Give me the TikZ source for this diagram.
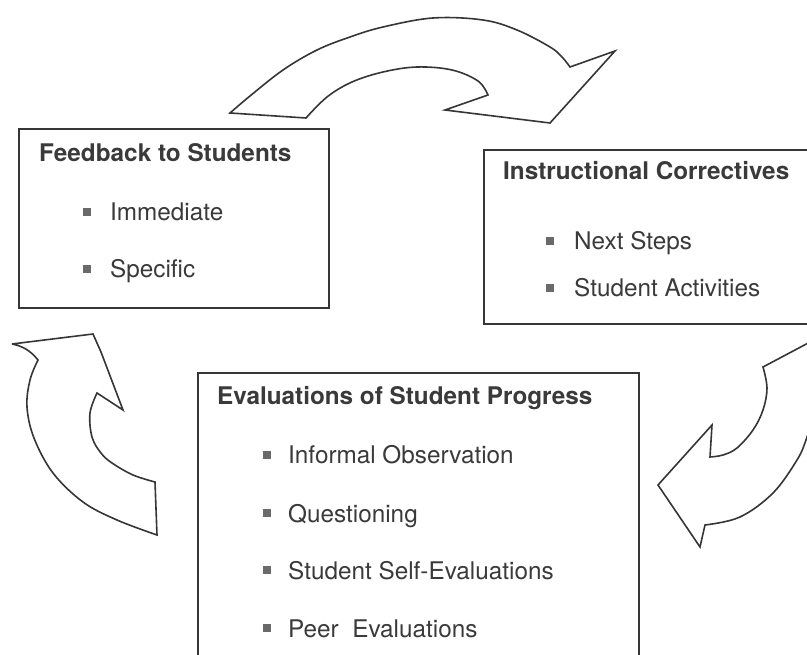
\documentclass[tikz,border=0pt]{standalone}
\usepackage{fontspec}
\setmainfont{TeX Gyre Heros}
\definecolor{ink}{HTML}{363636}
\definecolor{txt}{HTML}{3A3A3A}
\definecolor{dot}{HTML}{6A6A6A}
\begin{document}
\begin{tikzpicture}[x=1pt,y=-1pt,
  panel/.style={draw=ink, line width=1.8pt, anchor=north west, inner sep=0pt},
  heading/.style={anchor=base west, inner sep=0pt, text=txt, font=\fontsize{24.3}{29}\selectfont\bfseries},
  item/.style={anchor=base west, inner sep=0pt, text=txt, font=\fontsize{24.3}{29}\selectfont},
  bullet/.style={fill=dot, minimum size=7.5pt, inner sep=0pt, outer sep=0pt},
  bigarrow/.style={draw=ink, line width=1.6pt, line join=miter, fill=white}]
\useasboundingbox (0,0) rectangle (807,655);
\clip (0,0) rectangle (807,655);
\fill[white] (0,0) rectangle (807,655);

% top curved arrow: from Feedback over to Instructional Correctives
\draw[bigarrow] (230,113)
  -- plot[smooth, tension=0.6] coordinates {(230,113) (250,96) (283,70) (317,50) (350,37) (383,27) (433,18) (483,20) (517,30) (550,47) (562,57) (570,67)}
  -- (615,51) -- (550,123) -- (445,110) -- (488,95)
  -- plot[smooth, tension=0.6] coordinates {(488,95) (478,81) (452,70) (417,67) (383,72) (352,82) (327,97) (306,118)}
  -- cycle;

% left curved arrow: from Evaluations up to Feedback
\draw[bigarrow] (12,344) -- (93,334) -- (101,352) -- (123,410) -- (97,393)
  -- plot[smooth, tension=0.6] coordinates {(97,393) (90,413) (92,437) (101,453) (112,463) (133,475) (155,482)}
  -- (157,535)
  -- plot[smooth, tension=0.6] coordinates {(157,535) (117,520) (83,502) (53,473) (34,438) (27,407) (30,380) (38,360)}
  .. controls (30,350) and (22,346) .. (12,344);

% right curved arrow: from Instructional Correctives down to Evaluations
\draw[bigarrow] (812,341) -- (763,367)
  -- plot[smooth, tension=0.6] coordinates {(763,367) (767,388) (763,410) (753,430) (737,448) (723,455) (710,457)}
  -- (712,425) -- (658,485) -- (700,547) -- (705,525)
  -- plot[smooth, tension=0.6] coordinates {(705,525) (740,517) (773,493) (797,460) (806,440) (812,420)}
  -- cycle;

% Feedback to Students
\node[panel, minimum width=310pt, minimum height=179pt] (fbbox) at (18,128) {};
\node[heading] (fbtitle) at (39,162) {Feedback to Students};
\node[bullet] (fbb1) at (87,212) {};
\node[item] (fbi1) at (110,221) {Immediate};
\node[bullet] (fbb2) at (87,269) {};
\node[item] (fbi2) at (110,278) {Specific};

% Instructional Correctives
\node[panel, minimum width=330pt, minimum height=174pt] (icbox) at (483,149) {};
\node[heading] (ictitle) at (503,180) {Instructional Correctives};
\node[bullet] (icb1) at (550,241) {};
\node[item] (ici1) at (574,250) {Next Steps};
\node[bullet] (icb2) at (550,288) {};
\node[item] (ici2) at (574,297) {Student Activities};

% Evaluations of Student Progress
\node[panel, minimum width=441pt, minimum height=300pt] (evbox) at (197,372) {};
\node[heading] (evtitle) at (217,405) {Evaluations of Student Progress};
\node[bullet] (evb1) at (267,455) {};
\node[item] (evi1) at (288,464) {Informal Observation};
\node[bullet] (evb2) at (267,513) {};
\node[item] (evi2) at (288,522) {Questioning};
\node[bullet] (evb3) at (267,570) {};
\node[item] (evi3) at (288,579) {Student Self-Evaluations};
\node[bullet] (evb4) at (267,628) {};
\node[item] (evi4) at (288,637) {Peer\ \ Evaluations};
\end{tikzpicture}
\end{document}
